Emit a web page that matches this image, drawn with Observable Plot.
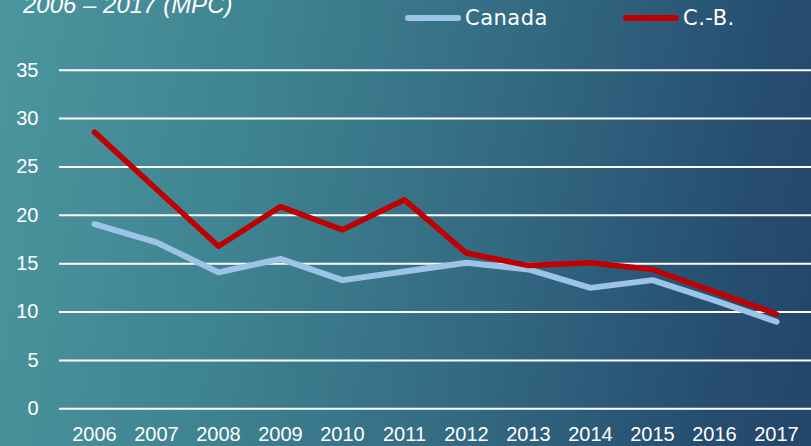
<!DOCTYPE html>
<html>
<head>
<meta charset="utf-8">
<script src="https://cdn.jsdelivr.net/npm/d3@7"></script>
<script src="https://cdn.jsdelivr.net/npm/@observablehq/plot@0.6"></script>
<style>
  html, body { margin: 0; padding: 0; }
  body { width: 811px; height: 446px; overflow: hidden; font-family: "Liberation Sans", sans-serif; }
  #wrap {
    position: relative; width: 811px; height: 446px; overflow: hidden;
    background: linear-gradient(100deg, #4b969e 0%, #3f8491 30%, #336a82 60%, #264d70 88%, #23466a 100%);
    color: #fff;
  }
  #title {
    position: absolute; left: 23px; top: -9px; font-size: 24px; font-style: italic;
    color: #fff; white-space: nowrap;
  }
  #legend { position: absolute; top: 5px; left: 0; height: 26px; width: 811px; font-size: 21px; font-family: "DejaVu Sans", sans-serif; letter-spacing: 0.5px; }
  .item { position: absolute; display: flex; align-items: center; height: 26px; }
  .sw { display: inline-block; width: 56px; height: 6px; border-radius: 3px; margin-right: 4px; }
  #chart { position: absolute; left: 0; top: 0; }
</style>
</head>
<body>
<div id="wrap">
  <div id="chart"></div>
  <div id="title"></div>
  <div id="legend"></div>
</div>
<script>
const years = [2006, 2007, 2008, 2009, 2010, 2011, 2012, 2013, 2014, 2015, 2016, 2017];
const canada = [19.1, 17.2, 14.1, 15.5, 13.3, 14.2, 15.1, 14.4, 12.5, 13.3, 11.2, 9.0];
const cb = [28.6, 22.7, 16.8, 20.9, 18.5, 21.6, 16.1, 14.8, 15.1, 14.4, 12.1, 9.8];
const seriesNames = ["Canada", "C.-B."];
const seriesColors = ["#9dc3e6", "#c00000"];
const yTicks = [0, 5, 10, 15, 20, 25, 30, 35];
const titleText = "2006 – 2017 (MPC)";

const rows = [];
years.forEach((y, i) => {
  rows.push({year: String(y), value: canada[i], series: seriesNames[0]});
  rows.push({year: String(y), value: cb[i], series: seriesNames[1]});
});

document.getElementById("title").textContent = titleText;

const legend = document.getElementById("legend");
const legendX = [405, 623];
seriesNames.forEach((n, i) => {
  const it = document.createElement("div");
  it.className = "item";
  it.style.left = legendX[i] + "px";
  const sw = document.createElement("span");
  sw.className = "sw";
  sw.style.background = seriesColors[i];
  const tx = document.createElement("span");
  tx.textContent = n;
  it.appendChild(sw); it.appendChild(tx);
  legend.appendChild(it);
});

const plot = Plot.plot({
  width: 811,
  height: 446,
  marginLeft: 59,
  marginRight: 0,
  marginTop: 69.7,
  marginBottom: 37.7,
  style: {background: "transparent", color: "#fff", fontFamily: "Liberation Sans, sans-serif", fontSize: "20px", overflow: "visible"},
  x: {type: "point", domain: years.map(String), padding: 0.5, label: null},
  y: {domain: [0, 35], ticks: yTicks, label: null},
  color: {domain: seriesNames, range: seriesColors},
  marks: [
    Plot.ruleY(yTicks, {stroke: "#fff", strokeWidth: 2, strokeOpacity: 1}),
    Plot.axisY(yTicks, {tickSize: 0, tickPadding: 21, fontSize: 20, fill: "#fff", label: null}),
    Plot.axisX({tickSize: 0, tickPadding: 18, fontSize: 20, fill: "#fff", label: null}),
    Plot.line(rows.filter(d => d.series === seriesNames[0]), {x: "year", y: "value", stroke: seriesColors[0], strokeWidth: 6, strokeLinecap: "round", strokeLinejoin: "round"}),
    Plot.line(rows.filter(d => d.series === seriesNames[1]), {x: "year", y: "value", stroke: seriesColors[1], strokeWidth: 5.5, strokeLinecap: "round", strokeLinejoin: "round"})
  ]
});
document.getElementById("chart").appendChild(plot);
</script>
</body>
</html>
